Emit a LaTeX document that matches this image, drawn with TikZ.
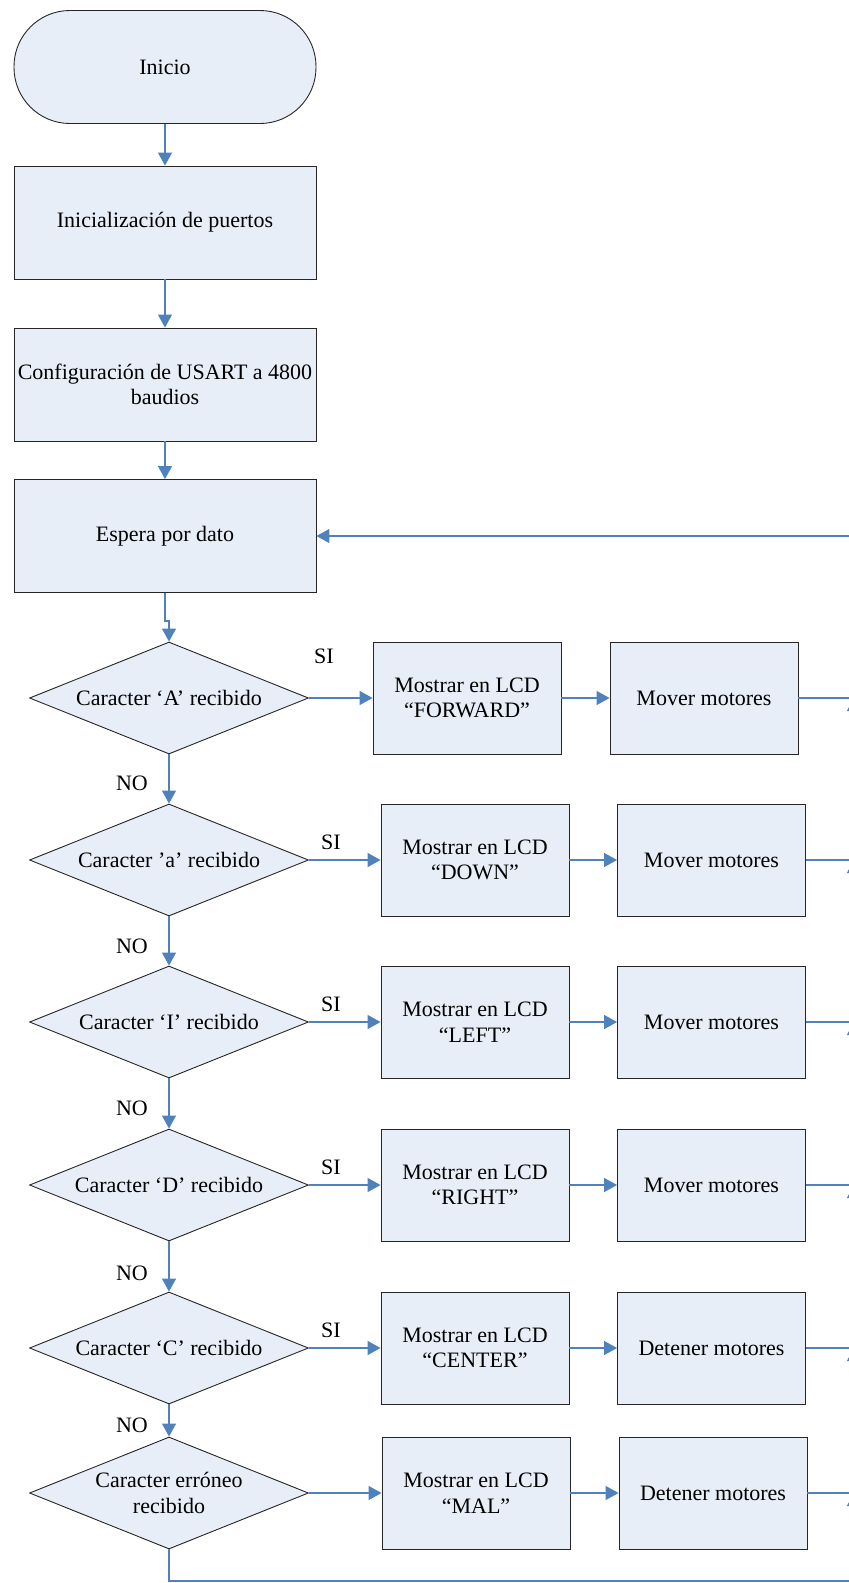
\documentclass[tikz,border=0pt]{standalone}
\usepackage{fontspec}
\setmainfont{Liberation Serif}
\usetikzlibrary{shapes.geometric,arrows.meta}
\definecolor{boxfill}{RGB}{232,238,247}
\definecolor{flowblue}{RGB}{79,129,189}
\begin{document}
\begin{tikzpicture}[x=1pt,y=-1pt,
    font=\fontsize{22}{25.5}\selectfont,
    term/.style={draw=black!85, line width=0.9pt, fill=boxfill, rounded corners=56pt, minimum width=302pt, minimum height=113pt},
    proc/.style={draw=black!85, line width=0.9pt, fill=boxfill, align=center, minimum width=302pt, minimum height=113pt, inner sep=1pt},
    act/.style={draw=black!85, line width=0.9pt, fill=boxfill, align=center, minimum width=188pt, minimum height=112pt, inner sep=2pt},
    decision/.style={diamond, draw=black!85, line width=0.9pt, fill=boxfill, align=center, aspect=2.5, inner sep=0pt, minimum width=279pt, minimum height=112pt},
    flow/.style={draw=flowblue, line width=1.2pt, -{Triangle[width=14pt,length=13pt]}},
    tag/.style={inner sep=0pt}]
    \useasboundingbox (0,0) rectangle (849,1583);

    % Start and setup
    \node[term] (inicio) at (165,67) {Inicio};
    \node[proc] (init) at (165,222.5) {Inicialización de puertos};
    \node[proc] (usart) at (165,384.5) {Configuración de USART a 4800\\baudios};
    \node[proc] (espera) at (165,536) {Espera por dato};

    % Decisions
    \node[decision] (dA) at (169,698) {Caracter ‘A’ recibido};
    \node[decision] (da) at (169,860) {Caracter ’a’ recibido};
    \node[decision] (dI) at (169,1022) {Caracter ‘I’ recibido};
    \node[decision] (dD) at (169,1185) {Caracter ‘D’ recibido};
    \node[decision] (dC) at (169,1348) {Caracter ‘C’ recibido};
    \node[decision] (dE) at (169,1493) {Caracter erróneo\\recibido};

    % LCD messages
    \node[act] (lcdA) at (467,698) {Mostrar en LCD\\“FORWARD”};
    \node[act] (lcda) at (475,860) {Mostrar en LCD\\“DOWN”};
    \node[act] (lcdI) at (475,1022) {Mostrar en LCD\\“LEFT”};
    \node[act] (lcdD) at (475,1185) {Mostrar en LCD\\“RIGHT”};
    \node[act] (lcdC) at (475,1348) {Mostrar en LCD\\“CENTER”};
    \node[act] (lcdE) at (476,1493) {Mostrar en LCD\\“MAL”};

    % Motors
    \node[act] (motA) at (704,698) {Mover motores};
    \node[act] (mota) at (711.5,860) {Mover motores};
    \node[act] (motI) at (711.5,1022) {Mover motores};
    \node[act] (motD) at (711.5,1185) {Mover motores};
    \node[act] (motC) at (711.5,1348) {Detener motores};
    \node[act] (motE) at (713,1493) {Detener motores};

    % SI / NO labels
    \node[tag] (siA) at (324,656) {SI};
    \node[tag] (sia) at (331,842) {SI};
    \node[tag] (siI) at (331,1004) {SI};
    \node[tag] (siD) at (331,1167) {SI};
    \node[tag] (siC) at (331,1330) {SI};
    \node[tag] (noa) at (132,783) {NO};
    \node[tag] (noI) at (132,946) {NO};
    \node[tag] (noD) at (132,1108) {NO};
    \node[tag] (noC) at (132,1273) {NO};
    \node[tag] (noE) at (132,1425) {NO};

    % Return path (runs past the right edge)
    \coordinate (back) at (854,536);
    \coordinate (bot) at (854,1581);

    % Connections
    \draw[flow] (inicio) -- (init);
    \draw[flow] (init) -- (usart);
    \draw[flow] (usart) -- (espera);
    \draw[flow] (espera.south) -- ++(0,28) -| (dA.north);
    \draw[flow] (dA) -- (da);
    \draw[flow] (da) -- (dI);
    \draw[flow] (dI) -- (dD);
    \draw[flow] (dD) -- (dC);
    \draw[flow] (dC) -- (dE);
    \draw[flow] (dA) -- (lcdA);
    \draw[flow] (da) -- (lcda);
    \draw[flow] (dI) -- (lcdI);
    \draw[flow] (dD) -- (lcdD);
    \draw[flow] (dC) -- (lcdC);
    \draw[flow] (dE) -- (lcdE);
    \draw[flow] (lcdA) -- (motA);
    \draw[flow] (lcda) -- (mota);
    \draw[flow] (lcdI) -- (motI);
    \draw[flow] (lcdD) -- (motD);
    \draw[flow] (lcdC) -- (motC);
    \draw[flow] (lcdE) -- (motE);
    \draw[flowblue, line width=1.2pt] (motA.east) -| (back);
    \draw[flow] (back) -- (espera.east);
    \draw[flow] (mota.east) -| (back |- motA.east);
    \draw[flow] (motI.east) -| (back |- mota.east);
    \draw[flow] (motD.east) -| (back |- motI.east);
    \draw[flow] (motC.east) -| (back |- motD.east);
    \draw[flow] (motE.east) -| (back |- motC.east);
    \draw[flow] (dE.south) |- (bot) -- (back |- motE.east);
\end{tikzpicture}
\end{document}
